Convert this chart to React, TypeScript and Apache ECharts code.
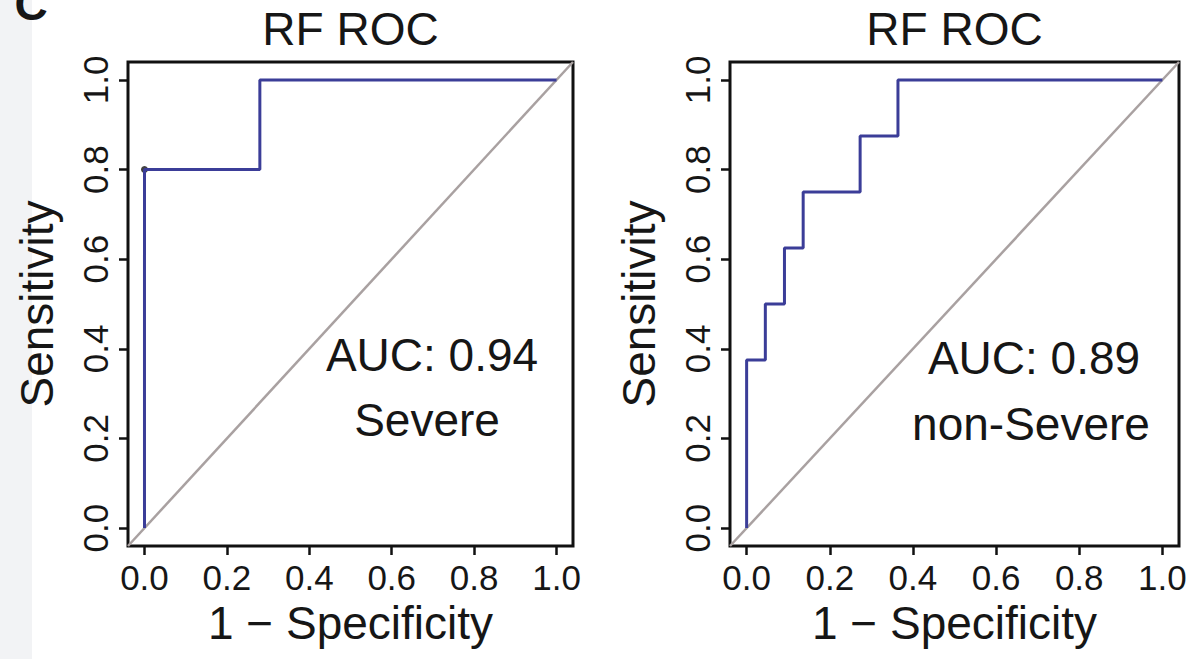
import React, { useEffect, useRef } from "react";
import * as echarts from "echarts";

const tickValues = [0, 0.2, 0.4, 0.6, 0.8, 1.0];
const severeFPR = [0, 0, 0.28, 0.28, 1];
const severeTPR = [0, 0.8, 0.8, 1, 1];
const severeCutoff = [[0, 0.8]];
const nonSevereFPR = [0, 0, 0.045, 0.045, 0.091, 0.091, 0.136, 0.136, 0.273, 0.273, 0.364, 0.364, 1];
const nonSevereTPR = [0, 0.375, 0.375, 0.5, 0.5, 0.625, 0.625, 0.75, 0.75, 0.875, 0.875, 1, 1];
const chanceLine = [[-0.04, -0.04], [1.04, 1.04]];
const panelTitles = ["RF ROC", "RF ROC"];
const aucTexts = ["AUC: 0.94", "AUC: 0.89"];
const groupTexts = ["Severe", "non-Severe"];

const FONT = "Liberation Sans, Arial, sans-serif";
const TXT = "#161616";
const BLUE = "#3b3d98";
const GRAY = "#a9a1a1";

function makeAxis(gridIndex: number, isX: boolean) {
  return {
    type: "value",
    gridIndex,
    min: -0.04,
    max: 1.04,
    splitLine: { show: false },
    axisLine: { show: false, onZero: false },
    axisTick: {
      show: true,
      length: 9,
      customValues: tickValues,
      lineStyle: { color: "#111", width: 2.5 },
    },
    axisLabel: {
      show: true,
      customValues: tickValues,
      formatter: (v: number) => v.toFixed(1),
      fontFamily: FONT,
      fontSize: 35,
      color: TXT,
      margin: isX ? 14 : 15,
      rotate: isX ? 0 : 90,
    },
    name: isX ? "1 \u2212 Specificity" : "Sensitivity",
    nameLocation: "middle",
    nameGap: isX ? 50 : 68,
    nameTextStyle: { fontFamily: FONT, fontSize: 46, color: TXT },
  };
}

export default function App() {
  const ref = useRef<HTMLDivElement>(null);
  useEffect(() => {
    if (!ref.current) return;
    const chart = echarts.init(ref.current, null, { renderer: "svg" });
    const grids = [
      { left: 128, top: 62, width: 445, height: 484 },
      { left: 730, top: 62, width: 449, height: 484 },
    ];
    const zip = (a: number[], b: number[]) => a.map((v, i) => [v, b[i]]);
    chart.setOption({
      animation: false,
      backgroundColor: "#ffffff",
      grid: grids.map((g) => ({
        ...g,
        show: true,
        borderColor: "#111",
        borderWidth: 3,
        backgroundColor: "transparent",
        containLabel: false,
      })),
      title: panelTitles.map((t, i) => ({
        text: t,
        left: grids[i].left + grids[i].width / 2,
        top: 6,
        textAlign: "center",
        padding: 0,
        textStyle: { fontFamily: FONT, fontSize: 46, fontWeight: "normal", color: TXT },
      })),
      xAxis: [makeAxis(0, true), makeAxis(1, true)],
      yAxis: [makeAxis(0, false), makeAxis(1, false)],
      series: [
        {
          type: "line",
          xAxisIndex: 0,
          yAxisIndex: 0,
          data: chanceLine,
          symbol: "none",
          lineStyle: { color: GRAY, width: 2.5 },
          clip: true,
        },
        {
          type: "line",
          xAxisIndex: 1,
          yAxisIndex: 1,
          data: chanceLine,
          symbol: "none",
          lineStyle: { color: GRAY, width: 2.5 },
          clip: true,
        },
        {
          type: "line",
          xAxisIndex: 0,
          yAxisIndex: 0,
          data: zip(severeFPR, severeTPR),
          symbol: "none",
          lineStyle: { color: BLUE, width: 3 },
        },
        {
          type: "line",
          xAxisIndex: 1,
          yAxisIndex: 1,
          data: zip(nonSevereFPR, nonSevereTPR),
          symbol: "none",
          lineStyle: { color: BLUE, width: 3 },
        },
        {
          type: "scatter",
          xAxisIndex: 0,
          yAxisIndex: 0,
          data: severeCutoff,
          symbol: "circle",
          symbolSize: 7,
          itemStyle: { color: "#111" },
        },
      ],
      graphic: [
        {
          type: "rect",
          shape: { x: 0, y: 0, width: 32, height: 659 },
          style: { fill: "#f2f3f5" },
          z: -10,
        },
        {
          type: "text",
          x: 31,
          y: 27,
          style: {
            text: "C",
            fontFamily: FONT,
            fontSize: 46,
            fontWeight: "bold",
            fill: TXT,
            align: "center",
            verticalAlign: "bottom",
          },
        },
        ...[0, 1].flatMap((i) => {
          const cx = i === 0 ? 432 : 1034;
          return [
            {
              type: "text",
              x: cx,
              y: i === 0 ? 355 : 358,
              style: {
                text: aucTexts[i],
                fontFamily: FONT,
                fontSize: 46,
                fill: TXT,
                align: "center",
                verticalAlign: "middle",
              },
            },
            {
              type: "text",
              x: i === 0 ? 427 : 1031,
              y: i === 0 ? 420 : 424,
              style: {
                text: groupTexts[i],
                fontFamily: FONT,
                fontSize: 46,
                fill: TXT,
                align: "center",
                verticalAlign: "middle",
              },
            },
          ];
        }),
      ],
    });
    return () => chart.dispose();
  }, []);
  return (
    <div
      ref={ref}
      style={{ position: "fixed", left: 0, top: 0, width: 1200, height: 659, background: "#fff" }}
    />
  );
}
